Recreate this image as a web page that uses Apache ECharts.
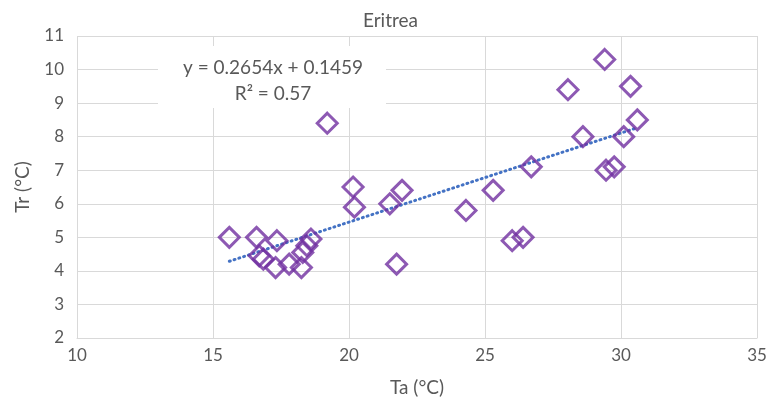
<!DOCTYPE html>
<html>
<head>
<meta charset="utf-8">
<script src="https://cdn.jsdelivr.net/npm/echarts@6/dist/echarts.min.js"></script>
<style>html,body{margin:0;padding:0;background:#fff}#c{width:781px;height:402px}</style>
</head>
<body>
<div id="c"></div>
<script>
var title = 'Eritrea';
var xName = 'Ta (°C)';
var yName = 'Tr (°C)';
var ta = [15.6, 16.6, 17.35, 16.7, 16.85, 17.3, 17.8, 18.25, 18.3, 18.45, 18.6, 19.2, 20.15, 20.2, 21.5, 21.95, 21.75, 24.3, 25.3, 26.0, 26.4, 26.7, 28.05, 28.6, 29.4, 29.45, 29.75, 30.1, 30.35, 30.6];
var tr = [5.0, 5.0, 4.9, 4.45, 4.35, 4.1, 4.2, 4.1, 4.55, 4.75, 4.95, 8.4, 6.5, 5.9, 6.0, 6.4, 4.2, 5.8, 6.4, 4.9, 5.0, 7.1, 9.4, 8.0, 10.3, 7.0, 7.1, 8.0, 9.5, 8.5];
var slope = 0.2654, intercept = 0.1459;
var eqText = 'y = 0.2654x + 0.1459';
var r2Text = 'R² = 0.57';
var xTicks = [10, 35, 5];
var yTicks = [2, 11, 1];

var pts = ta.map(function (x, i) { return [x, tr[i]]; });
var xmin = Math.min.apply(null, ta), xmax = Math.max.apply(null, ta);
var trend = [[xmin, slope * xmin + intercept], [xmax, slope * xmax + intercept]];

var chart = echarts.init(document.getElementById('c'), null, {renderer: 'canvas'});
var font = 'Lato, "Open Sans", sans-serif';
var grey = '#595959';
chart.setOption({
  animation: false,
  backgroundColor: '#fff',
  title: {text: title, left: 'center', top: 6, textStyle: {fontFamily: font, fontWeight: 'normal', fontSize: 19, color: grey}},
  grid: {left: 77, right: 24, top: 36, bottom: 64},
  xAxis: {
    type: 'value', min: xTicks[0], max: xTicks[1], interval: xTicks[2],
    name: xName, nameLocation: 'middle', nameGap: 40,
    nameTextStyle: {fontFamily: font, fontSize: 19, color: grey},
    axisLine: {show: true, lineStyle: {color: '#d9d9d9', width: 1}},
    axisTick: {show: false},
    axisLabel: {fontFamily: font, fontSize: 17, color: grey, margin: 9},
    splitLine: {show: true, lineStyle: {color: '#d9d9d9', width: 1}}
  },
  yAxis: {
    type: 'value', min: yTicks[0], max: yTicks[1], interval: yTicks[2],
    name: yName, nameLocation: 'middle', nameGap: 45, nameRotate: 90,
    nameTextStyle: {fontFamily: font, fontSize: 19, color: grey},
    axisLine: {show: false},
    axisTick: {show: false},
    axisLabel: {fontFamily: font, fontSize: 17, color: grey, margin: 13},
    splitLine: {show: true, lineStyle: {color: '#d9d9d9', width: 1}}
  },
  graphic: [
    {type: 'rect', left: 158, top: 46, shape: {width: 228, height: 62}, style: {fill: '#fff'}, z: 5},
    {type: 'text', x: 273, y: 68, style: {text: eqText, font: '19px ' + font, fill: grey, align: 'center', verticalAlign: 'middle'}, z: 6},
    {type: 'text', x: 273, y: 94, style: {text: r2Text, font: '19px ' + font, fill: grey, align: 'center', verticalAlign: 'middle'}, z: 6}
  ],
  series: [
    {
      type: 'line', data: trend, symbol: 'none', z: 3,
      lineStyle: {color: '#4472C4', width: 3, type: [1, 4], cap: 'round'}
    },
    {
      type: 'scatter', data: pts, symbol: 'diamond', symbolSize: 20, z: 4,
      itemStyle: {color: 'rgba(0,0,0,0)', borderColor: '#7030A0', borderWidth: 3}
    }
  ]
});
</script>
</body>
</html>
